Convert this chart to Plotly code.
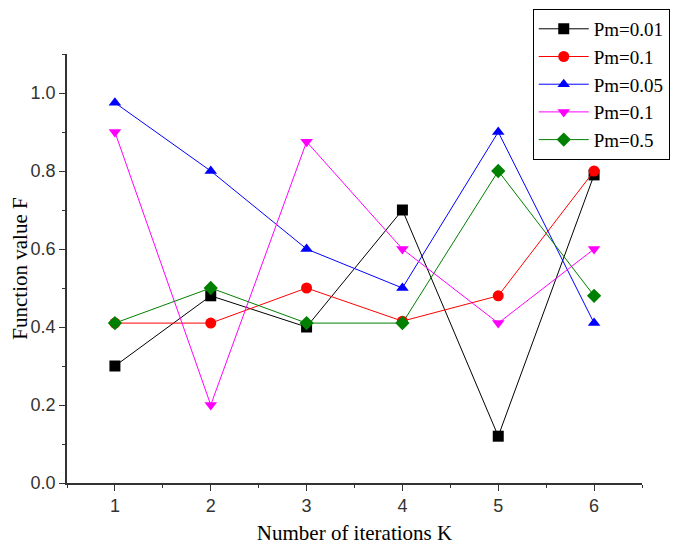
import plotly.graph_objects as go

iterations = [1, 2, 3, 4, 5, 6]
pm_001 = [0.30, 0.48, 0.40, 0.70, 0.12, 0.79]
pm_01a = [0.41, 0.41, 0.50, 0.415, 0.48, 0.80]
pm_005 = [0.975, 0.80, 0.60, 0.50, 0.90, 0.41]
pm_01b = [0.90, 0.20, 0.875, 0.60, 0.41, 0.60]
pm_05 = [0.41, 0.50, 0.41, 0.41, 0.80, 0.48]

series = [
    ("Pm=0.01", pm_001, "#000000", "square"),
    ("Pm=0.1", pm_01a, "#ff0000", "circle"),
    ("Pm=0.05", pm_005, "#0000ff", "triangle-up"),
    ("Pm=0.1", pm_01b, "#ff00ff", "triangle-down"),
    ("Pm=0.5", pm_05, "#008000", "diamond"),
]

fig = go.Figure()
for name, vals, color, sym in series:
    fig.add_trace(go.Scatter(
        x=iterations, y=vals, name=name, mode="lines+markers",
        line=dict(color=color, width=1),
        marker=dict(symbol=sym, size=11, color=color),
    ))

axis_font = dict(family="Liberation Sans, Arial", size=18, color="#333333")
title_font = dict(family="Liberation Serif, Times New Roman", size=21, color="#000000")

fig.update_layout(
    width=677, height=537,
    margin=dict(l=59, r=43, t=46, b=62, autoexpand=False),
    paper_bgcolor="white", plot_bgcolor="white",
    showlegend=True,
    legend=dict(
        x=0.81, y=1.105, xanchor="left", yanchor="top",
        bordercolor="#000000", borderwidth=1, bgcolor="white",
        font=dict(family="Liberation Serif, Times New Roman", size=19, color="#000000"),
        tracegroupgap=0, itemwidth=50,
    ),
    xaxis=dict(
        range=[0.5, 6.5], tickmode="array", tickvals=iterations,
        ticks="outside", ticklen=6, tickwidth=1.3, tickcolor="#333333",
        showline=True, linecolor="#333333", linewidth=1.5,
        showgrid=False, zeroline=False, tickfont=axis_font,
        minor=dict(ticks="outside", ticklen=3, dtick=0.5, tick0=0.5, tickcolor="#333333", showgrid=False),
        title=dict(text="Number of iterations K", font=title_font, standoff=10),
    ),
    yaxis=dict(
        range=[0, 1.1], tickmode="linear", tick0=0, dtick=0.2, tickformat=".1f",
        ticks="outside", ticklen=6, tickwidth=1.3, tickcolor="#333333",
        showline=True, linecolor="#333333", linewidth=1.5,
        showgrid=False, zeroline=False, tickfont=axis_font,
        minor=dict(ticks="outside", ticklen=3, dtick=0.1, tick0=0, tickcolor="#333333", showgrid=False),
        title=dict(text="Function value F", font=title_font, standoff=6),
    ),
)

fig.write_html("out.html")
